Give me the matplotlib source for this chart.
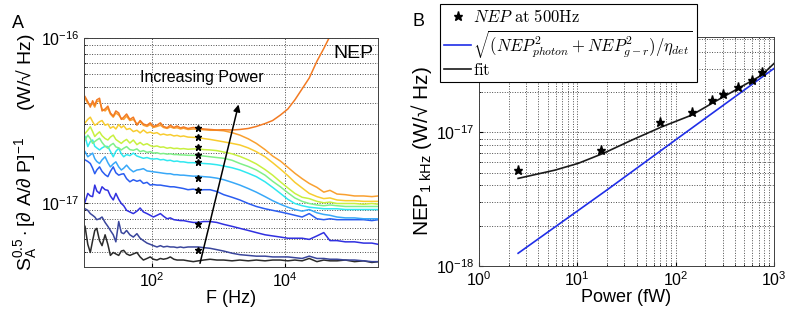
import matplotlib

matplotlib.use("Agg")
import matplotlib.pyplot as plt
import numpy as np
from matplotlib.lines import Line2D
from matplotlib.ticker import FixedLocator, LogLocator, NullFormatter, NullLocator

plt.rcParams["font.family"] = ["Liberation Sans", "DejaVu Sans"]
plt.rcParams["mathtext.fontset"] = "custom"
plt.rcParams["mathtext.rm"] = "Liberation Sans"
plt.rcParams["mathtext.it"] = "Liberation Sans:italic"
plt.rcParams["mathtext.bf"] = "Liberation Sans:bold"

NAN = np.nan
SCALE = 1e-18  # spectra below are in units of 1e-18 W/sqrt(Hz)

# ---- panel A: noise spectra for increasing optical power ----
freq = [10, 11, 12, 13, 14, 15, 16.5, 18, 20, 22,
        24, 26.5, 29, 32, 35, 38, 42, 47, 53, 60,
        67, 75, 85, 95, 106, 120, 135, 150, 170, 190,
        215, 240, 270, 300, 350, 420, 500, 600, 750, 950,
        1200, 1600, 2100, 2800, 3700, 5000, 6500, 8500, 11000, 14000,
        18000, 23000, 30000, 38000, 47000, 60000, 80000, 110000, 150000, 200000,
        250000]

spec_p0 = [7.2, 5.6, 5.0, 5.9, 6.8, 7.0, 5.9, 5.5, 6.4, 5.6,
           4.8, 5.0, 4.9, 4.8, 5.1, 5.15, 4.9, 4.8, 4.9, 5.0,
           4.7, 4.5, 4.6, 4.7, 4.55, 4.5, 4.6, 4.55, 4.6, 4.7,
           4.55, 4.5, 4.5, 4.5, 4.45, 4.4, 4.45, 4.5, 4.55, 4.5,
           4.5, 4.45, 4.5, 4.45, 4.5, 4.45, 4.5, 4.5, 4.45, 4.5,
           4.45, 4.6, 4.4, 4.5, 4.45, 4.45, 4.5, 4.4, 4.45, 4.35,
           4.4]
spec_p1 = [9.2, 9.0, 8.6, 8.4, 8.2, 7.9, 8.0, 8.2, 7.6, 7.2,
           6.8, 6.4, 5.8, 7.7, 6.6, 6.5, 6.8, 6.4, 6.2, 6.5,
           6.1, 5.9, 5.7, 5.6, 5.5, 5.4, 5.5, 5.4, 5.45, 5.4,
           5.4, 5.35, 5.4, 5.35, 5.4, 5.4, 5.4, 5.35, 5.3, 5.2,
           5.1, 4.95, 4.85, 4.8, 4.75, 4.75, 4.7, 4.7, 4.7, 4.65,
           4.6, 4.75, 4.6, 4.6, 4.55, 4.55, 4.5, 4.5, 4.45, 4.4,
           4.4]
spec_p2 = [10.1, 11.4, 11.0, 10.9, 12.8, 11.8, 11.4, 12.5, 12.0, 11.9,
           11.0, 10.4, 11.4, 10.5, 9.9, 9.6, 9.0, 8.8, 8.6, 8.9,
           9.3, 8.8, 8.6, 8.4, 8.2, 8.4, 8.6, 8.3, 8.0, 8.1,
           7.9, 7.85, 7.8, 7.8, 7.7, 7.6, 7.6, 7.7, 7.7, 7.6,
           7.4, 7.2, 7.0, 6.8, 6.6, 6.4, 6.3, 6.2, 6.1, 6.1,
           6.1, 6.0, 6.3, 6.6, 5.9, 5.9, 5.8, 5.8, 5.7, 5.7,
           5.6]
spec_p3 = [18.2, 17.8, 17.3, 16.2, 15, 15.8, 16.5, 15.5, 14.8, 14.4,
           15.5, 16.5, 15.2, 14.7, 14.9, 15, 14, 13.4, 13.8, 13.5,
           13.7, 13.1, 13.3, 12.8, 12.9, 12.8, 12.8, 12.7, 12.6, 12.5,
           12.5, 12.4, 12.3, 12.2, 12.0, 12.1, 11.9, 12.0, 12.0, 11.7,
           11.2, 10.8, 10.4, 9.9, 9.5, 9.2, 9.0, 8.8, 8.6, 8.4,
           8.2, 8.6, 8.0, 7.9, 8.0, 7.9, 7.9, 7.9, 7.9, 7.8,
           7.9]
spec_p4 = [20.4, 19, 19.5, 20, 18.5, 17.8, 17.3, 18.2, 19, 17.5,
           16.5, 17.2, 17.7, 16.5, 15.8, 16.2, 16.9, 16, 15.4, 15.8,
           15.9, 16.1, 15.6, 15.5, 15.4, 15.3, 15.2, 15.1, 15.0, 15.0,
           14.8, 14.8, 14.7, 14.7, 14.6, 14.5, 14.5, 14.4, 14.3, 14.1,
           13.8, 13.3, 12.8, 12.2, 11.6, 10.9, 10.3, 9.8, 9.4, 9.1,
           8.9, 9.1, 8.7, 8.5, 8.4, 8.2, 8.1, 8.1, 8.0, 8.0,
           8.0]
spec_p5 = [25.2, 21.9, 23.5, 24, 22, 21.5, 20.9, 21.5, 22, 21.9,
           20.5, 19, 20.5, 21.4, 19.8, 19, 19.6, 19.3, 20, 19.2,
           18.9, 18.6, 18.8, 18.5, 18.4, 18.5, 18.2, 18.3, 18.0, 18.1,
           17.8, 17.9, 17.7, 17.7, 17.5, 17.5, 17.4, 17.3, 17.2, 17.0,
           16.7, 16.3, 15.8, 15.1, 14.4, 13.4, 12.4, 11.4, 10.5, 9.9,
           9.6, 9.4, 9.3, 9.2, 9.2, 9.2, 9.1, 9.1, 9.1, 9.1,
           9.1]
spec_p6 = [24, 25.7, 24.5, 22.9, 23.5, 24, 24.6, 23.2, 22, 21.4,
           22.3, 22.9, 21.8, 21.5, 20.9, 21.4, 21.9, 21, 20.8, 21.2,
           20.4, 20.7, 20.2, 20.4, 20, 20.1, 19.8, 19.9, 19.7, 19.8,
           19.6, 19.6, 19.5, 19.5, 19.4, 19.4, 19.3, 19.2, 19.0, 18.8,
           18.6, 18.1, 17.3, 16.6, 15.8, 14.7, 13.5, 12.5, 11.5, 10.7,
           10.2, 9.9, 9.7, 9.6, 9.7, 9.6, 9.5, 9.5, 9.5, 9.5,
           9.5]
spec_p7 = [26.3, 27.5, 28.9, 27, 25.2, 26, 26.9, 25.5, 24.5, 24,
           25, 25.7, 24.2, 23.5, 22.9, 23.6, 24.2, 23, 24, 22.5,
           23.2, 22.4, 22.8, 22.2, 21.9, 22.1, 21.7, 21.8, 21.4, 21.6,
           21.3, 21.4, 21.2, 21.3, 21.1, 21.2, 21.2, 21.0, 20.9, 20.7,
           20.3, 19.8, 19.1, 18.2, 17.2, 15.9, 14.7, 13.4, 12.3, 11.4,
           10.8, 10.6, 10.2, 10.0, 10.1, 9.9, 9.9, 9.9, 9.8, 9.9,
           9.8]
spec_p8 = [30.5, 32, 33, 31, 29.5, 30, 31, 31.5, 29.5, 30,
           28.3, 29, 28, 29.8, 28.5, 29.3, 27.8, 28.2, 27, 27.5,
           26.5, 27.6, 26.5, 26.8, 26.3, 26.6, 25.8, 26.1, 25.7, 25.9,
           25.4, 25.6, 25.2, 25.4, 25.0, 24.9, 24.8, 24.5, 24.2, 23.8,
           23.4, 22.9, 22.4, 21.5, 20.4, 19.0, 17.5, 16.0, 14.6, 13.3,
           12.3, 11.4, 10.9, 10.6, 10.7, 10.4, 10.3, 10.3, 10.2, 10.2,
           10.2]
spec_p9 = [43, 40, 39, 40, 38, 41, 41.5, 37, 36, 37.5,
           34.5, 33, 35, 34, 32.5, 32, 33.5, 31.5, 32, 30,
           31, 29.5, 29, 29.8, 28.6, 29, 29.5, 28.6, 28.2, 28.8,
           28.3, 28.5, 28, 28.3, 27.8, 28, 27.9, 27.7, 27.5, 27.5,
           27.3, 26.6, 25.7, 24.4, 22.9, 21, 19.2, 17.9, 16.4, 15.1,
           14, 13.1, 12.4, 11.6, 11.9, 11.3, 11.2, 11.0, 11.0, 10.9,
           11.0]
spec_p10 = [44, 41, 38, 41.5, 39, 42, 43, 36, 37, 38.5,
            35, 33.5, 36, 35, 32, 33, 34.5, 32, 33, 29.5,
            31.5, 30, 29.5, 30.5, 29, 29.5, 30.5, 29, 28.5, 29.5,
            28.6, 29.2, 28.4, 28.8, 28.2, 28.6, 28.3, 28.0, 27.8, 27.6,
            27.7, 27.6, 27.8, 28.2, 29.0, 30.2, 31.5, 34, 37, 42,
            49, 57, 72, 86, 102, 125, NAN, NAN, NAN, NAN,
            NAN]

spectra = [spec_p0, spec_p1, spec_p2, spec_p3, spec_p4, spec_p5,
           spec_p6, spec_p7, spec_p8, spec_p9, spec_p10]
spec_colors = ["#2b2b2b", "#3a469c", "#3030e0", "#2a5cf0", "#38a8f8", "#30e8f0",
               "#80f088", "#c8f040", "#f8cc30", "#f9a030", "#f27a22"]

# ---- panel B: NEP versus absorbed power ----
star_freq = 500
power = [2.5, 17.6, 69, 146, 233, 305, 434, 594, 751]
nep_500 = [5.2, 7.4, 12.0, 14.2, 17.6, 19.5, 21.9, 24.9, 28.3]

fit_power = [2.5, 5.9, 10.2, 18.4, 35.7, 72, 146, 233, 434, 751, 1000]
fit_nep = [4.52, 5.21, 5.86, 6.97, 8.75, 11.0, 13.5, 16.5, 21.4, 26.9, 32.9]

model_power = [2.5, 20, 100, 1000]
model_nep = [1.24, 3.7, 8.8, 30.2]


def scaled(values):
    return np.array(values, dtype=float) * SCALE


def dotted_grid(ax, axis="both", which="both"):
    ax.grid(True, axis=axis, which=which, linestyle=(0, (1, 1.6)), color="0.3", linewidth=0.7)


fig = plt.figure(figsize=(7.86, 3.22), dpi=100)

# ---------------- panel A ----------------
ax_a = fig.add_axes([0.1069, 0.1717, 0.3740, 0.7112])
for values, color in zip(spectra, spec_colors):
    ax_a.plot(freq, scaled(values), color=color, linewidth=1.1)
ax_a.plot([star_freq] * len(nep_500), scaled(nep_500), linestyle="none",
          marker="*", color="black", markersize=4.5)

ax_a.set_xscale("log")
ax_a.set_yscale("log")
ax_a.set_xlim(9.66, 2.47e5)
ax_a.set_ylim(4.1e-18, 1e-16)
ax_a.xaxis.set_major_locator(FixedLocator([1e2, 1e4]))
ax_a.xaxis.set_minor_locator(NullLocator())
ax_a.yaxis.set_major_locator(FixedLocator([1e-17, 1e-16]))
ax_a.yaxis.set_minor_locator(LogLocator(base=10, subs=np.arange(2, 10)))
ax_a.yaxis.set_minor_formatter(NullFormatter())
dotted_grid(ax_a, axis="x", which="major")
dotted_grid(ax_a, axis="y", which="both")

ax_a.annotate("", xy=(2050, 4.09e-17), xytext=(518, 4.14e-18),
              arrowprops=dict(arrowstyle="-|>", color="black", lw=1.1, mutation_scale=10))
ax_a.text(0.40, 0.827, "Increasing Power", transform=ax_a.transAxes,
          ha="center", va="center", fontsize=11.5)
ax_a.text(0.985, 0.93, "NEP", transform=ax_a.transAxes, ha="right", va="center", fontsize=14)

ax_a.set_xlabel("F (Hz)", fontsize=13, labelpad=0)
ax_a.set_ylabel(r"$\mathrm{S_A^{0.5}\cdot[\partial\ A/\partial\ P]^{-1}}$     (W/√ Hz)",
                fontsize=14, labelpad=1)

# ---------------- panel B ----------------
ax_b = fig.add_axes([0.6094, 0.1748, 0.3753, 0.7103])
ax_b.plot(model_power, scaled(model_nep), color="#1f2ee8", linewidth=1.2)
ax_b.plot(fit_power, scaled(fit_nep), color="#1a1a1a", linewidth=1.2)
ax_b.plot(power, scaled(nep_500), linestyle="none", marker="*", color="black", markersize=6.5)

ax_b.set_xscale("log")
ax_b.set_yscale("log")
ax_b.set_xlim(1, 1000)
ax_b.set_ylim(1e-18, 5.2e-17)
ax_b.xaxis.set_major_locator(FixedLocator([1, 10, 100, 1000]))
ax_b.yaxis.set_major_locator(FixedLocator([1e-18, 1e-17]))
for axis in (ax_b.xaxis, ax_b.yaxis):
    axis.set_minor_locator(LogLocator(base=10, subs=np.arange(2, 10)))
    axis.set_minor_formatter(NullFormatter())
dotted_grid(ax_b)

ax_b.set_xlabel("Power (fW)", fontsize=13, labelpad=0)
ax_b.set_ylabel(r"NEP$_{\mathrm{1\ kHz}}$ (W/√ Hz)", fontsize=15, labelpad=1)

handles = [
    Line2D([], [], linestyle="none", marker="*", color="black", markersize=6.5),
    Line2D([], [], color="#1f2ee8", linewidth=1.2),
    Line2D([], [], color="#1a1a1a", linewidth=1.2),
]
labels = [
    r"$NEP\ \mathrm{at\ 500Hz}$",
    r"$\sqrt{(NEP^2_{photon}+NEP^2_{g-r})/\eta_{det}}$",
    r"$\mathrm{fit}$",
]
leg = ax_b.legend(handles, labels, loc="upper left", bbox_to_anchor=(0.56, 0.988),
                  bbox_transform=fig.transFigure, fancybox=False, edgecolor="black",
                  framealpha=1, fontsize=12, handlelength=1.6, handletextpad=0.1,
                  borderaxespad=0, borderpad=0.25, labelspacing=0.15)
leg.get_frame().set_linewidth(0.8)
for t in leg.get_texts():
    t.set_math_fontfamily("cm")

for ax in (ax_a, ax_b):
    ax.tick_params(which="both", direction="in", labelsize=11.5)
    ax.tick_params(which="major", length=3)
    ax.tick_params(which="minor", length=1.5)
    for spine in ax.spines.values():
        spine.set_linewidth(0.7)
        spine.set_color("0.25")

fig.text(12 / 786, 1 - 23 / 322, "A", fontsize=13, va="center")
fig.text(413 / 786, 1 - 21 / 322, "B", fontsize=13, va="center")

fig.savefig("out.png", dpi=100)
